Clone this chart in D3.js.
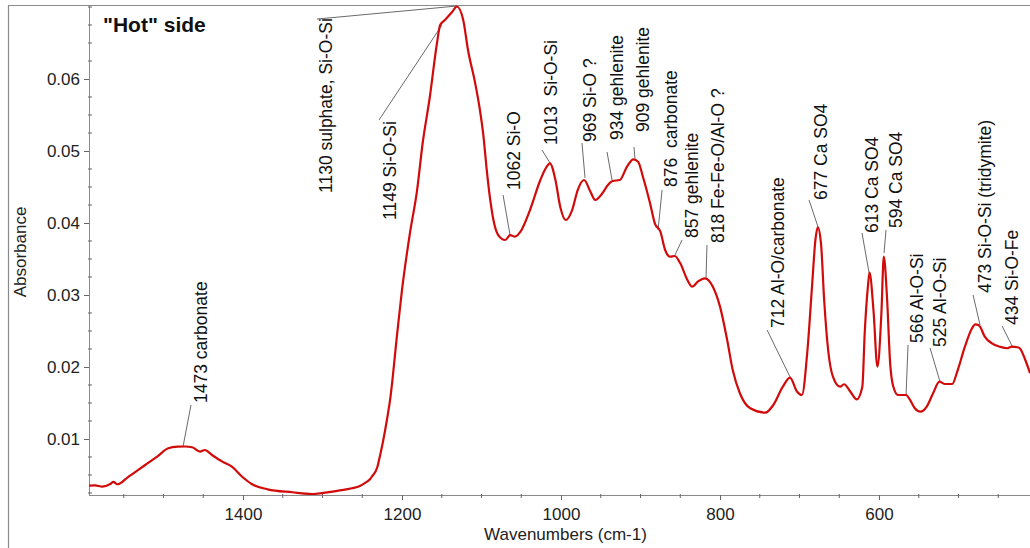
<!DOCTYPE html>
<html>
<head>
<meta charset="utf-8">
<script src="https://cdn.jsdelivr.net/npm/d3@7"></script>
<style>
  html, body { margin: 0; padding: 0; background: #fff; }
  svg { display: block; font-family: "Liberation Sans", Arial, sans-serif; }
</style>
</head>
<body>
<svg id="chart" width="1030" height="548"></svg>
<script>
// ---- Data ----
const wavenumbers = [1594,1586,1577,1567,1563,1558,1545,1523,1508,1494,1482,1473,1464,1454,1448,1439,1426,1414,1401,1389,1369,1338,1313,1297,1280,1263,1253,1246,1240,1238,1231,1228,1224,1219,1215,1206,1200,1190,1181,1174,1165,1156,1152,1146,1137,1131,1123,1117,1108,1102,1098,1093,1089,1085,1079,1070,1064,1058,1051,1039,1026,1018,1014,1007,1001,994,986,979,971,963,957,948,941,935,926,917,909,903,897,888,882,875,869,863,857,850,841,835,828,819,809,800,791,784,775,762,743,733,721,712,703,697,690,684,680,677,673,669,664,658,649,644,636,628,621,618,614,612,607,602,597,594,590,586,582,576,566,561,555,548,540,532,524,517,508,501,492,483,479,475,473,467,458,448,439,433,426,423,416,410];
const absorbance  = [0.00351,0.00357,0.00338,0.00375,0.00403,0.00371,0.00468,0.00639,0.00754,0.00871,0.00893,0.00896,0.00885,0.00824,0.00847,0.00778,0.00685,0.00615,0.00476,0.00375,0.00301,0.00260,0.00236,0.00254,0.00282,0.00315,0.00347,0.00393,0.00444,0.00476,0.00611,0.00750,0.00958,0.01264,0.01542,0.02472,0.03070,0.03861,0.04458,0.05111,0.05750,0.06500,0.06750,0.06820,0.06930,0.07007,0.06820,0.06403,0.05944,0.05570,0.05250,0.04694,0.04320,0.04042,0.03833,0.03764,0.03833,0.03810,0.03879,0.04180,0.04597,0.04782,0.04829,0.04597,0.04227,0.04042,0.04180,0.04458,0.04597,0.04435,0.04320,0.04413,0.04528,0.04583,0.04597,0.04782,0.04885,0.04851,0.04643,0.04274,0.03996,0.03879,0.03625,0.03532,0.03542,0.03440,0.03208,0.03115,0.03185,0.03232,0.03115,0.02838,0.02375,0.01958,0.01635,0.01426,0.01365,0.01472,0.01726,0.01851,0.01657,0.01611,0.02236,0.03163,0.03764,0.03940,0.03718,0.02931,0.02236,0.01865,0.01726,0.01760,0.01657,0.01551,0.01726,0.02472,0.03115,0.03310,0.02792,0.02004,0.02750,0.03532,0.02976,0.02051,0.01726,0.01611,0.01611,0.01542,0.01426,0.01379,0.01449,0.01635,0.01796,0.01764,0.01764,0.01958,0.02282,0.02538,0.02593,0.02583,0.02560,0.02421,0.02329,0.02282,0.02260,0.02282,0.02274,0.02260,0.02097,0.01913];

const xTickValues = [1400, 1200, 1000, 800, 600];
const yTickValues = [0.01, 0.02, 0.03, 0.04, 0.05, 0.06];
const xTickLabels = ["1400", "1200", "1000", "800", "600"];
const yTickLabels = ["0.01", "0.02", "0.03", "0.04", "0.05", "0.06"];

const titleText = '"Hot" side';
const xAxisTitle = "Wavenumbers (cm-1)";
const yAxisTitle = "Absorbance";

// Peak annotations: label, point on curve (wn, A), leader end (wn, A), text bottom-centre (wn, A)
const annotations = [
  { label: "1473 carbonate",          pWn: 1475.5, pA: 0.00889, lWn: 1465.4, lA: 0.01472, tWn: 1452.8, tA: 0.01500 },
  { label: "1130 sulphate, Si-O-Si",  pWn: 1130.8, pA: 0.07014, lWn: 1306.9, lA: 0.06833, tWn: 1295.6, tA: 0.04417 },
  { label: "1149 Si-O-Si",            pWn: 1149.7, pA: 0.06750, lWn: 1228.9, lA: 0.05431, tWn: 1215.1, tA: 0.04042 },
  { label: "1062 Si-O",               pWn: 1064.1, pA: 0.03833, lWn: 1072.9, lA: 0.04389, tWn: 1059.1, tA: 0.04458 },
  { label: "1013  Si-O-Si",           pWn: 1013.8, pA: 0.04833, lWn: 1023.9, lA: 0.05014, tWn: 1012.6, tA: 0.05083 },
  { label: "969 Si-O ?",              pWn: 969.8,  pA: 0.04625, lWn: 973.6,  lA: 0.05111, tWn: 963.5,  tA: 0.05125 },
  { label: "934 gehlenite",           pWn: 935.8,  pA: 0.04597, lWn: 942.1,  lA: 0.04986, tWn: 930.4,  tA: 0.05153 },
  { label: "909 gehlenite",           pWn: 906.9,  pA: 0.04889, lWn: 908.2,  lA: 0.05056, tWn: 896.8,  tA: 0.05264 },
  { label: "876  carbonate",          pWn: 877.9,  pA: 0.03903, lWn: 872.9,  lA: 0.04458, tWn: 861.6,  tA: 0.04500 },
  { label: "857 gehlenite",           pWn: 856.6,  pA: 0.03556, lWn: 847.8,  lA: 0.03764, tWn: 835.2,  tA: 0.03792 },
  { label: "818 Fe-Fe-O/Al-O ?",      pWn: 817.6,  pA: 0.03236, lWn: 816.4,  lA: 0.03694, tWn: 802.5,  tA: 0.03722 },
  { label: "712 Al-O/carbonate",      pWn: 711.9,  pA: 0.01861, lWn: 740.8,  lA: 0.02514, tWn: 727.0,  tA: 0.02542 },
  { label: "677 Ca SO4",              pWn: 676.7,  pA: 0.03944, lWn: 688.0,  lA: 0.04320, tWn: 672.9,  tA: 0.04320 },
  { label: "613 Ca SO4",              pWn: 612.5,  pA: 0.03306, lWn: 621.4,  lA: 0.03861, tWn: 608.8,  tA: 0.03861 },
  { label: "594 Ca SO4",              pWn: 593.7,  pA: 0.03583, lWn: 591.2,  lA: 0.03903, tWn: 578.6,  tA: 0.03930 },
  { label: "566 Al-O-Si",             pWn: 566.0,  pA: 0.01611, lWn: 563.5,  lA: 0.02306, tWn: 552.2,  tA: 0.02333 },
  { label: "525 Al-O-Si",             pWn: 523.2,  pA: 0.01792, lWn: 535.8,  lA: 0.02264, tWn: 523.2,  tA: 0.02278 },
  { label: "473 Si-O-Si (tridymite)", pWn: 472.9,  pA: 0.02583, lWn: 481.7,  lA: 0.03000, tWn: 466.6,  tA: 0.03028 },
  { label: "434 Si-O-Fe",             pWn: 431.4,  pA: 0.02264, lWn: 445.2,  lA: 0.02569, tWn: 432.7,  tA: 0.02583 }
];

// ---- Layout ----
const W = 1030, H = 548;
const plot = { left: 89, right: 1030, top: 5, bottom: 495 };
const xDomain = [1593.7, 410.1];
const yDomain = [0.00222, 0.07028];

const svg = d3.select("#chart");

const x = d3.scaleLinear().domain(xDomain).range([plot.left, plot.right]);
const y = d3.scaleLinear().domain(yDomain).range([plot.bottom, plot.top]);

// outer frame (left and top edges)
svg.append("path")
  .attr("d", `M8.5,${H} L8.5,5.5 L${W},5.5`)
  .attr("fill", "none").attr("stroke", "#8a8a8a").attr("stroke-width", 1.2);

// Minor ticks
const xMinor = d3.range(1550, 400, -50).filter(v => !xTickValues.includes(v));
const yMinor = d3.range(0.0025, 0.0701, 0.0025).filter(v => !yTickValues.some(t => Math.abs(t - v) < 1e-6));

// X axis
const xAxis = d3.axisBottom(x)
  .tickValues(xTickValues)
  .tickFormat((d, i) => xTickLabels[i])
  .tickSize(5).tickPadding(8);
const gx = svg.append("g").attr("transform", `translate(0,${plot.bottom})`).call(xAxis);
gx.select(".domain").attr("stroke", "#8a8a8a").attr("d", `M${plot.left},0.5H${plot.right}`);
gx.selectAll(".tick line").attr("stroke", "#666");
gx.selectAll(".tick text").attr("fill", "#222").style("font-size", "17px").style("font-family", "'Liberation Sans', Arial, sans-serif");

svg.append("g").selectAll("line").data(xMinor).join("line")
  .attr("x1", d => x(d)).attr("x2", d => x(d))
  .attr("y1", plot.bottom - 1).attr("y2", plot.bottom + 3)
  .attr("stroke", "#666").attr("stroke-width", 1);

// Y axis
const yAxis = d3.axisLeft(y)
  .tickValues(yTickValues)
  .tickFormat((d, i) => yTickLabels[i])
  .tickSize(5).tickPadding(4);
const gy = svg.append("g").attr("transform", `translate(${plot.left},0)`).call(yAxis);
gy.select(".domain").attr("stroke", "#8a8a8a").attr("d", `M0.5,${plot.top}V${plot.bottom}`);
gy.selectAll(".tick line").attr("stroke", "#666");
gy.selectAll(".tick text").attr("fill", "#222").style("font-size", "17px").style("font-family", "'Liberation Sans', Arial, sans-serif");

svg.append("g").selectAll("line").data(yMinor).join("line")
  .attr("x1", plot.left - 1).attr("x2", plot.left + 3)
  .attr("y1", d => y(d)).attr("y2", d => y(d))
  .attr("stroke", "#666").attr("stroke-width", 1);

// Axis titles
svg.append("text")
  .attr("x", (plot.left + plot.right) / 2 + 6).attr("y", 540)
  .attr("text-anchor", "middle").attr("fill", "#222")
  .style("font-size", "17px").text(xAxisTitle);

svg.append("text")
  .attr("transform", `translate(20,252) rotate(-90)`)
  .attr("dy", "0.35em")
  .attr("text-anchor", "middle").attr("fill", "#222")
  .style("font-size", "17px").text(yAxisTitle);

// Title
svg.append("text")
  .attr("x", 103).attr("y", 32)
  .attr("fill", "#111").style("font-size", "21px").style("font-weight", "bold")
  .text(titleText);

// Clip
svg.append("clipPath").attr("id", "clip")
  .append("rect").attr("x", plot.left).attr("y", 0).attr("width", plot.right - plot.left).attr("height", plot.bottom);

// Leader lines
const gAnn = svg.append("g");
gAnn.selectAll("line").data(annotations).join("line")
  .attr("x1", d => x(d.pWn)).attr("y1", d => y(d.pA))
  .attr("x2", d => x(d.lWn)).attr("y2", d => y(d.lA))
  .attr("stroke", "#6a6a6a").attr("stroke-width", 1);

// Spectrum line
const series = wavenumbers.map((w, i) => ({ wn: w, a: absorbance[i] }));
const line = d3.line()
  .x(d => x(d.wn)).y(d => y(d.a))
  .curve(d3.curveMonotoneX);
svg.append("path")
  .datum(series)
  .attr("clip-path", "url(#clip)")
  .attr("d", line)
  .attr("fill", "none").attr("stroke", "#d10a0a").attr("stroke-width", 2.2)
  .attr("stroke-linejoin", "round");

// Annotation labels
gAnn.selectAll("text").data(annotations).join("text")
  .attr("transform", d => `translate(${x(d.tWn)},${y(d.tA)}) rotate(-90)`)
  .attr("dy", "0.36em")
  .attr("text-anchor", "start")
  .attr("fill", "#111")
  .style("font-size", "17.5px")
  .style("white-space", "pre")
  .attr("xml:space", "preserve")
  .text(d => d.label);
</script>
</body>
</html>
